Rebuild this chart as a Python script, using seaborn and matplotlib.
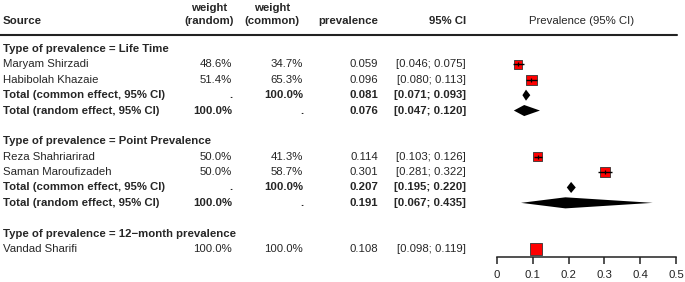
#! /usr/bin/env python3

import numpy as np
import pandas as pd
import matplotlib
matplotlib.use("Agg")
import matplotlib.pyplot as plt
import matplotlib.transforms as mtransforms
import seaborn as sns

sns.set_style("white")
plt.rcParams['font.family'] = ['Liberation Sans', 'DejaVu Sans']

# studies
groups = ["Life Time", "Point Prevalence", "12\u2212month prevalence"]
study_group = [0, 0, 1, 1, 2]
study_names = ["Maryam Shirzadi", "Habibolah Khazaie", "Reza Shahriarirad",
               "Saman Maroufizadeh", "Vandad Sharifi"]
w_random = [48.6, 51.4, 50.0, 50.0, 100.0]
w_common = [34.7, 65.3, 41.3, 58.7, 100.0]
est = [0.059, 0.096, 0.114, 0.301, 0.108]
lower = [0.046, 0.080, 0.103, 0.281, 0.098]
upper = [0.075, 0.113, 0.126, 0.322, 0.119]

# pooled (only groups with more than one study)
common_est = [0.081, 0.207]
common_lo = [0.071, 0.195]
common_hi = [0.093, 0.220]
random_est = [0.076, 0.191]
random_lo = [0.047, 0.067]
random_hi = [0.120, 0.435]

xticks = [0, 0.1, 0.2, 0.3, 0.4, 0.5]

# build the row table
rows = []
y = 0
for g, gname in enumerate(groups):
    rows.append(dict(y=y, kind="title", label="Type of prevalence = " + gname))
    y += 1
    idx = [i for i, s in enumerate(study_group) if s == g]
    for i in idx:
        rows.append(dict(y=y, kind="study", label=study_names[i],
                         wr=f"{w_random[i]:.1f}%", wc=f"{w_common[i]:.1f}%",
                         est=est[i], lo=lower[i], hi=upper[i], w=w_common[i]))
        y += 1
    if len(idx) > 1:
        rows.append(dict(y=y, kind="common", label="Total (common effect, 95% CI)",
                         wr=".", wc="100.0%", est=common_est[g],
                         lo=common_lo[g], hi=common_hi[g]))
        y += 1
        rows.append(dict(y=y, kind="random", label="Total (random effect, 95% CI)",
                         wr="100.0%", wc=".", est=random_est[g],
                         lo=random_lo[g], hi=random_hi[g]))
        y += 1
    y += 1
df = pd.DataFrame(rows)
studies = df[df.kind == "study"].copy()
pooled = df[df.kind.isin(["common", "random"])]

W, H = 685, 282
fig = plt.figure(figsize=(W / 100, H / 100), dpi=100)
# forest panel: 0 at px 497, 0.5 at px 676
ax_l, ax_r, ax_b = 470, 685, 257
ax = fig.add_axes([ax_l / W, (H - ax_b) / H, (ax_r - ax_l) / W, ax_b / H])
ppu = 358.0
ax.set_xlim((ax_l - 497) / ppu, (ax_r - 497) / ppu)
row_px, row0_px = 15.38, 49
ax.set_ylim(13 + (ax_b - 249) / row_px, -row0_px / row_px)

# squares sized by common-effect weight, CI line drawn over them
studies["side_px"] = 12 * (studies.w / 100) ** 0.35
studies["side"] = (studies.side_px * 0.72) ** 2
sns.scatterplot(data=studies, x="est", y="y", marker="s", color="#FF0000",
                edgecolor="#333333", linewidth=0.6, size="side",
                sizes=(studies.side.min(), studies.side.max()),
                legend=False, ax=ax, zorder=3)
vis = studies[(studies.hi - studies.lo) * ppu > 0.8 * studies.side_px]
ax.hlines(vis.y, vis.lo, vis.hi, color="black", lw=1.0, zorder=4)
ax.scatter(vis.est, vis.y, marker="|", s=12, color="black", lw=0.9, zorder=4)

# diamonds
hh = 0.36
for _, r in pooled.iterrows():
    ax.fill([r.lo, r.est, r.hi, r.est], [r.y, r.y - hh, r.y, r.y + hh],
            color="black", lw=0, zorder=3)

ax.set_xlabel("")
ax.set_ylabel("")
ax.set_xticks(xticks)
ax.set_xticklabels([f"{t:g}" for t in xticks], fontsize=8.2)
ax.set_yticks([])
for s in ["top", "left", "right"]:
    ax.spines[s].set_visible(False)
ax.spines["bottom"].set_bounds(0, 0.5)
ax.spines["bottom"].set_linewidth(1.1)
ax.spines["bottom"].set_color("#222222")
ax.tick_params(axis="x", direction="out", length=5, width=1.1, pad=4,
               colors="#222222", bottom=True)
ax.patch.set_alpha(0)

# table text
tr = mtransforms.blended_transform_factory(fig.transFigure, ax.transData)
fs = 8.2
x_src, x_wr, x_wc, x_est, x_ci = 3 / W, 232 / W, 303 / W, 378 / W, 466 / W
for _, r in df.iterrows():
    bold = r.kind != "study"
    fw = "bold" if bold else "normal"
    ax.text(x_src, r.y, r.label, transform=tr, ha="left", va="center",
            fontsize=fs, fontweight=fw, clip_on=False)
    if r.kind == "title":
        continue
    ax.text(x_wr, r.y, r.wr, transform=tr, ha="right", va="center",
            fontsize=fs, fontweight=fw, clip_on=False)
    ax.text(x_wc, r.y, r.wc, transform=tr, ha="right", va="center",
            fontsize=fs, fontweight=fw, clip_on=False)
    ax.text(x_est, r.y, f"{r.est:.3f}", transform=tr, ha="right", va="center",
            fontsize=fs, fontweight=fw, clip_on=False)
    ax.text(x_ci, r.y, f"[{r.lo:.3f}; {r.hi:.3f}]", transform=tr, ha="right",
            va="center", fontsize=fs, fontweight=fw, clip_on=False)

# header
yh1 = (21 - row0_px) / row_px
yh0 = (8 - row0_px) / row_px
ax.text(x_src, yh1, "Source", transform=tr, ha="left", va="center",
        fontsize=fs, fontweight="bold", clip_on=False)
for xc, sub in [(209 / W, "(random)"), (272 / W, "(common)")]:
    ax.text(xc, yh0, "weight", transform=tr, ha="center", va="center",
            fontsize=fs, fontweight="bold", clip_on=False)
    ax.text(xc, yh1, sub, transform=tr, ha="center", va="center",
            fontsize=fs, fontweight="bold", clip_on=False)
ax.text(x_est, yh1, "prevalence", transform=tr, ha="right", va="center",
        fontsize=fs, fontweight="bold", clip_on=False)
ax.text(x_ci, yh1, "95% CI", transform=tr, ha="right", va="center",
        fontsize=fs, fontweight="bold", clip_on=False)
ax.text(582 / W, yh1, "Prevalence (95% CI)", transform=tr, ha="center",
        va="center", fontsize=fs, clip_on=False)
yline = (34.5 - row0_px) / row_px
ax.plot([0, 677 / W], [yline, yline], transform=tr, color="#222222",
        lw=1.5, clip_on=False)

plt.savefig("out.png", dpi=100)
